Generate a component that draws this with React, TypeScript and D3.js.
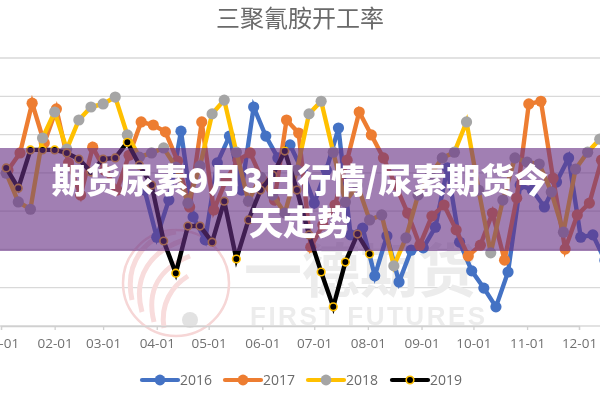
import React from "react";
import * as d3 from "d3";

const N = null;
const values2016 = [N, N, N, N, N, N, N, N, N, N, N, 65.5, 53.2, 62.9, 80.9, 58.5, 52.5, 72.6, 79.6, 65.5, 87.2, 79.6, 73.9, 77.3, 70.7, 62.1, 70.7, 81.7, 53.8, 55.6, 43.1, 53.5, 41.5, 49.8, 50.4, 55.8, 71.3, 51.9, 44.4, 39.9, 35.0, 44.1, 66.8, 65.5, 61.1, 67.6, 73.9, 53.2, 53.8, 47.2];
const values2017 = [70.7, 75.2, 88.2, 77.8, 86.7, 72.6, 64.2, 76.7, 70.7, 65.5, 74.6, 83.3, 82.5, 80.7, 73.1, 61.1, 83.3, 60.3, 68.1, 73.3, 75.2, 68.1, 62.9, 83.8, 80.4, 50.6, 56.4, 61.6, 73.3, 85.9, 79.9, 73.9, 66.8, 59.5, 51.1, 58.7, 61.6, 55.1, 48.3, 51.1, 59.5, 47.2, 63.4, 88.0, 88.7, 68.6, 50.1, 59.0, 62.1, 73.3];
const values2018 = [69.9, 62.4, 60.5, 79.1, 85.9, 76.2, 83.8, 87.2, 88.0, 89.8, 79.9, 74.1, 75.2, 76.5, 71.5, 62.1, 71.8, 85.4, 89.0, 75.4, 62.6, 68.9, 64.2, 59.5, 70.7, 85.4, 88.7, 75.4, 62.4, 66.8, 57.7, 59.0, 45.7, 53.0, 64.2, 69.4, 73.9, 75.4, 83.3, 65.5, 49.1, 62.9, 73.9, 72.8, 72.3, 65.0, 54.5, 71.0, 75.4, 78.8];
const values2019 = [71.3, 66.0, 76.0, 76.0, 76.0, 75.2, 73.6, 70.2, 73.6, 73.9, 78.0, 72.0, 66.8, 52.2, 43.8, 56.1, 56.1, 51.9, 62.6, 47.5, 57.7, 65.5, 69.4, 75.7, 65.5, 53.8, 44.1, 35.0, 46.7, 54.0, 48.8];

// day of January of each series' first weekly reading, all drawn on one calendar year
const firstDays = [7, 5, 4, 4];
const seriesNames = ["2016", "2017", "2018", "2019"];
const seriesValues = [values2016, values2017, values2018, values2019];
const lineColors = ["#4472C4", "#ED7D31", "#FFC000", "#000000"];
const dotColors = ["#4472C4", "#ED7D31", "#A5A5A5", "#000000"];
const dotStrokes = ["#4472C4", "#ED7D31", "#A5A5A5", "#FFC000"];

const chartTitle = "三聚氰胺开工率";
const bannerLines = ["期货尿素9月3日行情/尿素期货今", "天走势"];

const App: React.FC = () => {
  const svgRef = React.useRef<SVGSVGElement | null>(null);

  React.useEffect(() => {
    if (!svgRef.current) return;
    const svg = d3.select(svgRef.current);
    svg.selectAll("*").remove();

    const xScale = d3
      .scaleTime()
      .domain([new Date(2019, 0, 1), new Date(2019, 11, 1)])
      .range([1, 579]);
    const yScale = d3.scaleLinear().domain([30, 100]).range([326, 58]);

    svg
      .append("text")
      .attr("x", 300)
      .attr("y", 27)
      .attr("text-anchor", "middle")
      .attr("font-family", "'Noto Sans CJK SC'")
      .attr("font-size", 24)
      .attr("fill", "#6a6a6a")
      .text(chartTitle);

    // grid
    svg
      .append("g")
      .selectAll("line")
      .data(yScale.ticks(7))
      .join("line")
      .attr("x1", 0)
      .attr("x2", 600)
      .attr("y1", (d) => yScale(d))
      .attr("y2", (d) => yScale(d))
      .attr("stroke", "#d9d9d9")
      .attr("stroke-width", 1.3);

    // watermark
    const mark = svg.append("g");
    mark
      .append("circle")
      .attr("cx", 176)
      .attr("cy", 283)
      .attr("r", 53)
      .attr("fill", "none")
      .attr("stroke", "#f6d6d6")
      .attr("stroke-width", 2.5);
    [
      "M132 300C124 262 146 236 176 232",
      "M142 312C132 276 152 250 184 240",
      "M154 322C146 290 160 268 190 256",
      "M164 328C160 304 172 286 188 276",
    ].forEach((d) => {
      mark
        .append("path")
        .attr("d", d)
        .attr("fill", "none")
        .attr("stroke", "#f8dcdc")
        .attr("stroke-width", 5);
    });
    mark
      .append("circle")
      .attr("cx", 190)
      .attr("cy", 320)
      .attr("r", 8)
      .attr("fill", "#e2e2e2");
    mark
      .append("text")
      .attr("x", 244)
      .attr("y", 292)
      .attr("font-family", "'Noto Sans CJK SC'")
      .attr("font-weight", 700)
      .attr("font-size", 58)
      .attr("fill", "#ececec")
      .text("一德期货");
    mark
      .append("text")
      .attr("x", 250)
      .attr("y", 325)
      .attr("font-family", "'Liberation Sans'")
      .attr("font-weight", 700)
      .attr("font-size", 26)
      .attr("letter-spacing", 2.5)
      .attr("fill", "#ececec")
      .text("FIRST FUTURES");

    // x axis
    const axis = svg
      .append("g")
      .attr("transform", `translate(0, ${yScale(30)})`)
      .call(
        d3
          .axisBottom(xScale)
          .ticks(d3.timeMonth.every(1))
          .tickFormat(d3.timeFormat("%m-%d") as any)
          .tickSizeOuter(0)
          .tickSize(4)
          .tickPadding(8)
      );
    axis.selectAll("line").attr("stroke", "#d0d0d0").attr("stroke-width", 1.3);
    axis.select(".domain").attr("stroke", "#d0d0d0").attr("stroke-width", 1.3);
    axis
      .selectAll("text")
      .attr("font-family", "'Open Sans'")
      .attr("font-size", 13.5)
      .attr("fill", "#707070");

    // series
    seriesValues.forEach((values, s) => {
      const points = values.map((v, i) => ({
        date: d3.timeDay.offset(new Date(2019, 0, firstDays[s]), i * 7),
        value: v,
      }));
      const lineGenerator = d3
        .line<{ date: Date; value: number | null }>()
        .defined((d) => d.value !== null)
        .x((d) => xScale(d.date))
        .y((d) => yScale(d.value as number));
      svg
        .append("path")
        .datum(points)
        .attr("d", lineGenerator)
        .attr("fill", "none")
        .attr("stroke", lineColors[s])
        .attr("stroke-width", 4.4);
      svg
        .append("g")
        .selectAll("circle")
        .data(points.filter((d) => d.value !== null))
        .join("circle")
        .attr("cx", (d) => xScale(d.date))
        .attr("cy", (d) => yScale(d.value as number))
        .attr("r", s === 3 ? 3.8 : 5.6)
        .attr("fill", dotColors[s])
        .attr("stroke", dotStrokes[s])
        .attr("stroke-width", s === 3 ? 1.6 : 0);
    });

    // legend
    const legendX = d3.scaleOrdinal<string, number>().domain(seriesNames).range([142, 225, 308, 392]);
    seriesNames.forEach((name, s) => {
      const x0 = legendX(name);
      const g = svg.append("g").attr("transform", `translate(${x0}, 380)`);
      g.append("line")
        .attr("x2", 36)
        .attr("stroke", lineColors[s])
        .attr("stroke-width", 4.2)
        .attr("stroke-linecap", "round");
      g.append("circle")
        .attr("cx", 18)
        .attr("r", s === 3 ? 3.8 : 5.4)
        .attr("fill", dotColors[s])
        .attr("stroke", dotStrokes[s])
        .attr("stroke-width", s === 3 ? 1.6 : 0);
      g.append("text")
        .attr("x", 38)
        .attr("y", 5)
        .attr("font-family", "'Open Sans'")
        .attr("font-size", 14)
        .attr("fill", "#6a6a6a")
        .text(name);
    });

    // banner over the chart
    svg
      .append("rect")
      .attr("x", 0)
      .attr("y", 148)
      .attr("width", 600)
      .attr("height", 103)
      .attr("fill", "rgb(104,48,132)")
      .attr("opacity", 0.62);
    bannerLines.forEach((t, i) => {
      svg
        .append("text")
        .attr("x", 300)
        .attr("y", 193 + i * 42)
        .attr("text-anchor", "middle")
        .attr("font-family", "'Noto Sans CJK SC'")
        .attr("font-weight", 900)
        .attr("font-size", 34)
        .attr("fill", "#ffffff")
        .text(t);
    });
  }, []);

  return (
    <svg
      ref={svgRef}
      width={600}
      height={400}
      style={{ position: "absolute", left: 0, top: 0, display: "block", filter: "blur(0.4px)" }}
    ></svg>
  );
};

export default App;
